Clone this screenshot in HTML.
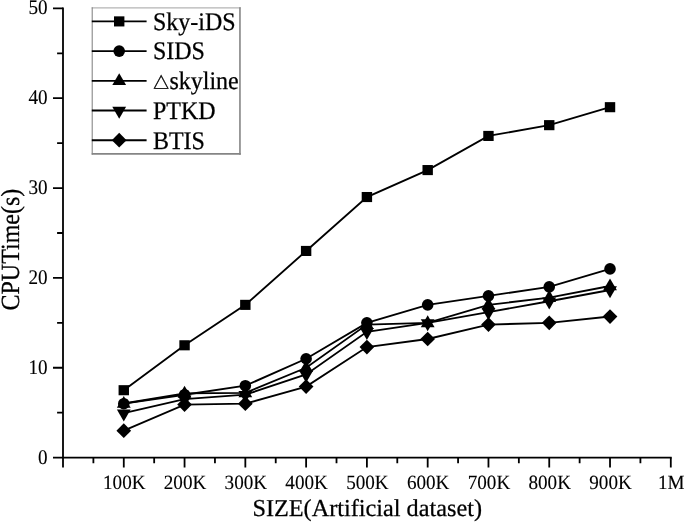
<!DOCTYPE html>
<html><head><meta charset="utf-8"><title>chart</title>
<style>
html,body{margin:0;padding:0;background:#fff;}
svg{display:block;font-family:"Liberation Serif",serif;fill:#000;}
text{stroke:#000;stroke-width:0.25px;text-rendering:geometricPrecision;}
.ax{stroke:#000;stroke-width:1.8;fill:none;}
.ln{stroke:#000;stroke-width:1.85;fill:none;}
.tk{font-size:19.15px;stroke-width:0.12px;}
.lg{font-size:24px;}
.tt{font-size:24px;}
</style></head><body>
<svg width="685" height="523" viewBox="0 0 685 523">
<rect x="0" y="0" width="685" height="523" fill="#fff"/>

<path class="ax" d="M63.0 7.5 V457.6 H671.70"/>
<path class="ax" d="M53.00 457.60 H63.0 M57.10 412.68 H63.0 M53.00 367.75 H63.0 M57.10 322.83 H63.0 M53.00 277.90 H63.0 M57.10 232.98 H63.0 M53.00 188.05 H63.0 M57.10 143.13 H63.0 M53.00 98.20 H63.0 M57.10 53.28 H63.0 M53.00 8.35 H63.0 M63.00 457.6 V467.60 M93.39 457.6 V463.20 M123.78 457.6 V467.60 M154.17 457.6 V463.20 M184.56 457.6 V467.60 M214.95 457.6 V463.20 M245.34 457.6 V467.60 M275.73 457.6 V463.20 M306.12 457.6 V467.60 M336.51 457.6 V463.20 M366.90 457.6 V467.60 M397.29 457.6 V463.20 M427.68 457.6 V467.60 M458.07 457.6 V463.20 M488.46 457.6 V467.60 M518.85 457.6 V463.20 M549.24 457.6 V467.60 M579.63 457.6 V463.20 M610.02 457.6 V467.60 M640.41 457.6 V463.20 M670.80 457.6 V467.60 "/>
<g transform="translate(0,463.55) scale(1,1.085)"><text class="tk" x="47.6" y="0" text-anchor="end">0</text></g>
<g transform="translate(0,373.70) scale(1,1.085)"><text class="tk" x="47.6" y="0" text-anchor="end">10</text></g>
<g transform="translate(0,283.85) scale(1,1.085)"><text class="tk" x="47.6" y="0" text-anchor="end">20</text></g>
<g transform="translate(0,194.00) scale(1,1.085)"><text class="tk" x="47.6" y="0" text-anchor="end">30</text></g>
<g transform="translate(0,104.15) scale(1,1.085)"><text class="tk" x="47.6" y="0" text-anchor="end">40</text></g>
<g transform="translate(0,14.30) scale(1,1.085)"><text class="tk" x="47.6" y="0" text-anchor="end">50</text></g>
<g transform="translate(0,488.55) scale(1,1.055)"><text class="tk" x="124.28" y="0" text-anchor="middle">100K</text></g>
<g transform="translate(0,488.55) scale(1,1.055)"><text class="tk" x="185.06" y="0" text-anchor="middle">200K</text></g>
<g transform="translate(0,488.55) scale(1,1.055)"><text class="tk" x="245.84" y="0" text-anchor="middle">300K</text></g>
<g transform="translate(0,488.55) scale(1,1.055)"><text class="tk" x="306.62" y="0" text-anchor="middle">400K</text></g>
<g transform="translate(0,488.55) scale(1,1.055)"><text class="tk" x="367.40" y="0" text-anchor="middle">500K</text></g>
<g transform="translate(0,488.55) scale(1,1.055)"><text class="tk" x="428.18" y="0" text-anchor="middle">600K</text></g>
<g transform="translate(0,488.55) scale(1,1.055)"><text class="tk" x="488.96" y="0" text-anchor="middle">700K</text></g>
<g transform="translate(0,488.55) scale(1,1.055)"><text class="tk" x="549.74" y="0" text-anchor="middle">800K</text></g>
<g transform="translate(0,488.55) scale(1,1.055)"><text class="tk" x="610.52" y="0" text-anchor="middle">900K</text></g>
<g transform="translate(0,488.55) scale(1,1.055)"><text class="tk" x="671.30" y="0" text-anchor="middle">1M</text></g>
<g transform="translate(0,516.35) scale(1,1.0)"><text class="tt" x="367.2" y="0" text-anchor="middle" style="font-size:24.25px">SIZE(Artificial dataset)</text></g>
<text class="tt" transform="translate(18.5,249.6) rotate(-90) scale(1,1.09)" text-anchor="middle">CPUTime(s)</text>
<polyline class="ln" points="123.78,390.21 184.56,345.29 245.34,304.86 306.12,250.95 366.90,197.04 427.68,170.08 488.46,135.94 549.24,125.16 610.02,107.19"/>
<rect x="118.58" y="385.16" width="10.4" height="10.1"/>
<rect x="179.36" y="340.24" width="10.4" height="10.1"/>
<rect x="240.14" y="299.81" width="10.4" height="10.1"/>
<rect x="300.92" y="245.90" width="10.4" height="10.1"/>
<rect x="361.70" y="191.99" width="10.4" height="10.1"/>
<rect x="422.48" y="165.03" width="10.4" height="10.1"/>
<rect x="483.26" y="130.89" width="10.4" height="10.1"/>
<rect x="544.04" y="120.11" width="10.4" height="10.1"/>
<rect x="604.82" y="102.14" width="10.4" height="10.1"/>
<polyline class="ln" points="123.78,403.69 184.56,394.71 245.34,385.72 306.12,358.77 366.90,322.83 427.68,304.86 488.46,295.87 549.24,286.89 610.02,268.92"/>
<circle cx="123.78" cy="403.69" r="5.8"/>
<circle cx="184.56" cy="394.71" r="5.8"/>
<circle cx="245.34" cy="385.72" r="5.8"/>
<circle cx="306.12" cy="358.77" r="5.8"/>
<circle cx="366.90" cy="322.83" r="5.8"/>
<circle cx="427.68" cy="304.86" r="5.8"/>
<circle cx="488.46" cy="295.87" r="5.8"/>
<circle cx="549.24" cy="286.89" r="5.8"/>
<circle cx="610.02" cy="268.92" r="5.8"/>
<polyline class="ln" points="123.78,403.51 184.56,393.36 245.34,392.91 306.12,367.75 366.90,324.62 427.68,322.83 488.46,304.86 549.24,297.67 610.02,285.99"/>
<polygon points="123.78,395.91 116.88,407.81 130.68,407.81"/>
<polygon points="184.56,385.76 177.66,397.66 191.46,397.66"/>
<polygon points="245.34,385.31 238.44,397.21 252.24,397.21"/>
<polygon points="306.12,360.15 299.22,372.05 313.02,372.05"/>
<polygon points="366.90,317.02 360.00,328.92 373.80,328.92"/>
<polygon points="427.68,315.23 420.78,327.13 434.58,327.13"/>
<polygon points="488.46,297.25 481.56,309.16 495.36,309.16"/>
<polygon points="549.24,290.07 542.34,301.97 556.14,301.97"/>
<polygon points="610.02,278.39 603.12,290.29 616.92,290.29"/>
<polyline class="ln" points="123.78,413.12 184.56,399.20 245.34,394.71 306.12,374.49 366.90,331.81 427.68,322.83 488.46,312.04 549.24,301.26 610.02,290.03"/>
<polygon points="123.78,421.42 116.88,409.42 130.68,409.42"/>
<polygon points="184.56,407.50 177.66,395.50 191.46,395.50"/>
<polygon points="245.34,403.01 238.44,391.01 252.24,391.01"/>
<polygon points="306.12,382.79 299.22,370.79 313.02,370.79"/>
<polygon points="366.90,340.11 360.00,328.11 373.80,328.11"/>
<polygon points="427.68,331.13 420.78,319.13 434.58,319.13"/>
<polygon points="488.46,320.34 481.56,308.34 495.36,308.34"/>
<polygon points="549.24,309.56 542.34,297.56 556.14,297.56"/>
<polygon points="610.02,298.33 603.12,286.33 616.92,286.33"/>
<polyline class="ln" points="123.78,430.65 184.56,404.59 245.34,403.69 306.12,386.62 366.90,347.08 427.68,339.00 488.46,324.62 549.24,322.83 610.02,316.54"/>
<polygon points="123.78,423.30 131.13,430.65 123.78,438.00 116.43,430.65"/>
<polygon points="184.56,397.24 191.91,404.59 184.56,411.94 177.21,404.59"/>
<polygon points="245.34,396.34 252.69,403.69 245.34,411.04 237.99,403.69"/>
<polygon points="306.12,379.27 313.47,386.62 306.12,393.97 298.77,386.62"/>
<polygon points="366.90,339.73 374.25,347.08 366.90,354.43 359.55,347.08"/>
<polygon points="427.68,331.65 435.03,339.00 427.68,346.35 420.33,339.00"/>
<polygon points="488.46,317.27 495.81,324.62 488.46,331.97 481.11,324.62"/>
<polygon points="549.24,315.48 556.59,322.83 549.24,330.18 541.89,322.83"/>
<polygon points="610.02,309.19 617.37,316.54 610.02,323.89 602.67,316.54"/>
<rect x="92.2" y="7.9" width="147.75" height="145.95" fill="#fff"/>
<path d="M91.7 7.9 H240.7" stroke="#b4b4b4" stroke-width="1.3" fill="none"/>
<path d="M92.2 7.3 V154.7" stroke="#7c7c7c" stroke-width="1" fill="none"/>
<path d="M239.95 7.3 V154.7" stroke="#858585" stroke-width="1.6" fill="none"/>
<path d="M91.7 153.85 H240.75" stroke="#858585" stroke-width="1.7" fill="none"/>
<path class="ln" d="M91.8 21.40 H146.6"/>
<rect x="114.00" y="16.35" width="10.4" height="10.1"/>
<g transform="translate(0,29.70) scale(1,1.055)"><text class="lg" x="152.9" y="0">Sky-iDS</text></g>
<path class="ln" d="M91.8 51.10 H146.6"/>
<circle cx="119.20" cy="51.10" r="5.8"/>
<g transform="translate(0,59.40) scale(1,1.055)"><text class="lg" x="152.9" y="0">SIDS</text></g>
<path class="ln" d="M91.8 80.80 H146.6"/>
<polygon points="119.20,73.20 112.30,85.10 126.10,85.10"/>
<g transform="translate(0,88.25) scale(1,0.937)"><text x="151.9" y="0" style="font-family:'WenQuanYi Zen Hei','DejaVu Sans',sans-serif;font-size:18.3px;stroke-width:0.4px">△</text></g>
<g transform="translate(0,89.10) scale(1,1.055)"><text class="lg" x="169.4" y="0">skyline</text></g>
<path class="ln" d="M91.8 110.50 H146.6"/>
<polygon points="119.20,118.80 112.30,106.80 126.10,106.80"/>
<g transform="translate(0,118.80) scale(1,1.055)"><text class="lg" x="152.9" y="0">PTKD</text></g>
<path class="ln" d="M91.8 140.20 H146.6"/>
<polygon points="119.20,132.85 126.55,140.20 119.20,147.55 111.85,140.20"/>
<g transform="translate(0,148.50) scale(1,1.055)"><text class="lg" x="152.9" y="0">BTIS</text></g>
</svg></body></html>
